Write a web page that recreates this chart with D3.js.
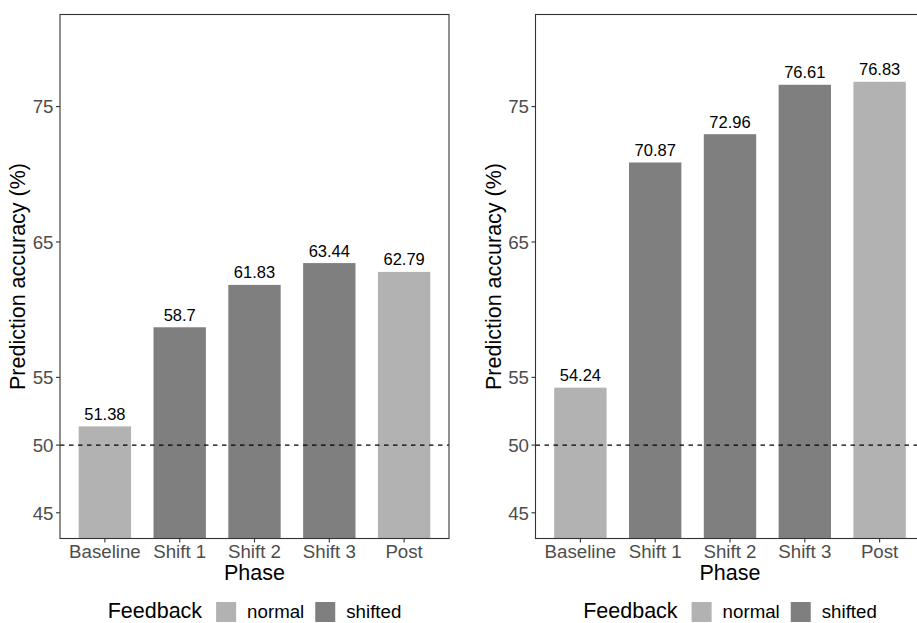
<!DOCTYPE html>
<html>
<head>
<meta charset="utf-8">
<script src="https://cdn.jsdelivr.net/npm/d3@7"></script>
<style>
  html, body { margin: 0; padding: 0; background: #fff; }
  svg { display: block; font-family: "Liberation Sans", Arial, Helvetica, sans-serif; }
</style>
</head>
<body>
<svg id="chart" width="917" height="623"></svg>
<script>
// Phases on the x axis and the feedback condition of each phase
const phases = ["Baseline", "Shift 1", "Shift 2", "Shift 3", "Post"];
const feedback = ["normal", "shifted", "shifted", "shifted", "normal"];

// Prediction accuracy (%) per phase, one array per panel
const accuracyLeft = [51.38, 58.7, 61.83, 63.44, 62.79];
const accuracyRight = [54.24, 70.87, 72.96, 76.61, 76.83];

// Axis breaks and chance level
const yTicks = [45, 50, 55, 65, 75];
const chanceLevel = 50;

const legendLevels = ["normal", "shifted"];
const fillColor = d3.scaleOrdinal().domain(legendLevels).range(["#b2b2b2", "#7f7f7f"]);

const svg = d3.select("#chart");

function drawPanel(left, values) {
  const panel = { left: left, right: left + 389, top: 14.5, bottom: 538.5 };
  const g = svg.append("g");

  // category centres with 0.6 step of margin on each side; bars are 0.7 step wide
  const x = d3.scalePoint().domain(phases).range([panel.left, panel.right]).padding(0.6);
  const barW = 0.7 * x.step();

  const y = d3.scaleLinear().domain([43.1, 81.8]).range([panel.bottom, panel.top]);

  const data = phases.map((p, i) => ({ phase: p, value: values[i], fb: feedback[i] }));

  // bars
  g.selectAll("rect.bar").data(data).join("rect")
    .attr("class", "bar")
    .attr("x", d => x(d.phase) - barW / 2)
    .attr("width", barW)
    .attr("y", d => y(d.value))
    .attr("height", d => panel.bottom - y(d.value))
    .attr("fill", d => fillColor(d.fb));

  // chance line
  g.append("line")
    .attr("x1", panel.left).attr("x2", panel.right)
    .attr("y1", y(chanceLevel)).attr("y2", y(chanceLevel))
    .attr("stroke", "#000").attr("stroke-width", 1.2)
    .attr("stroke-dasharray", "4.5,4.5");

  // value labels
  g.selectAll("text.val").data(data).join("text")
    .attr("class", "val")
    .attr("x", d => x(d.phase))
    .attr("y", d => y(d.value) - 6.5)
    .attr("text-anchor", "middle")
    .attr("font-size", 16.5)
    .attr("fill", "#000")
    .text(d => d.value);

  // panel border
  g.append("rect")
    .attr("x", panel.left).attr("y", panel.top)
    .attr("width", panel.right - panel.left).attr("height", panel.bottom - panel.top)
    .attr("fill", "none").attr("stroke", "#333").attr("stroke-width", 1.1);

  // y axis ticks and labels
  const yAxis = g.append("g");
  yTicks.forEach(t => {
    yAxis.append("line")
      .attr("x1", panel.left - 4).attr("x2", panel.left)
      .attr("y1", y(t)).attr("y2", y(t))
      .attr("stroke", "#333").attr("stroke-width", 1.1);
    yAxis.append("text")
      .attr("x", panel.left - 6.5).attr("y", y(t))
      .attr("dy", "0.36em")
      .attr("text-anchor", "end")
      .attr("font-size", 18.7)
      .attr("fill", "#4d4d4d")
      .text(t);
  });

  // x axis ticks and labels
  phases.forEach(p => {
    g.append("line")
      .attr("x1", x(p)).attr("x2", x(p))
      .attr("y1", panel.bottom).attr("y2", panel.bottom + 4)
      .attr("stroke", "#333").attr("stroke-width", 1.1);
    g.append("text")
      .attr("x", x(p)).attr("y", panel.bottom + 19.5)
      .attr("text-anchor", "middle")
      .attr("font-size", 18.7)
      .attr("fill", "#4d4d4d")
      .text(p);
  });

  // axis titles
  g.append("text")
    .attr("x", (panel.left + panel.right) / 2).attr("y", panel.bottom + 41)
    .attr("text-anchor", "middle")
    .attr("font-size", 21.5)
    .attr("fill", "#000")
    .text("Phase");

  g.append("text")
    .attr("transform", `translate(${panel.left - 35},${(panel.top + panel.bottom) / 2}) rotate(-90)`)
    .attr("text-anchor", "middle")
    .attr("font-size", 21.5)
    .attr("fill", "#000")
    .text("Prediction accuracy (%)");

  // legend centred under the panel
  const lg = g.append("g");
  const title = lg.append("text")
    .attr("x", 0).attr("y", 0)
    .attr("font-size", 21.5).attr("fill", "#000")
    .text("Feedback");
  let cx = title.node().getComputedTextLength() + 14;
  legendLevels.forEach(lv => {
    lg.append("rect")
      .attr("x", cx).attr("y", -16)
      .attr("width", 20).attr("height", 20)
      .attr("fill", fillColor(lv));
    const t = lg.append("text")
      .attr("x", cx + 31).attr("y", 0)
      .attr("font-size", 18.7).attr("fill", "#000")
      .text(lv);
    cx += 31 + t.node().getComputedTextLength() + 11;
  });
  const totalW = cx - 11;
  lg.attr("transform", `translate(${(panel.left + panel.right) / 2 - totalW / 2},618)`);
}

drawPanel(60, accuracyLeft);
drawPanel(535.5, accuracyRight);
</script>
</body>
</html>
